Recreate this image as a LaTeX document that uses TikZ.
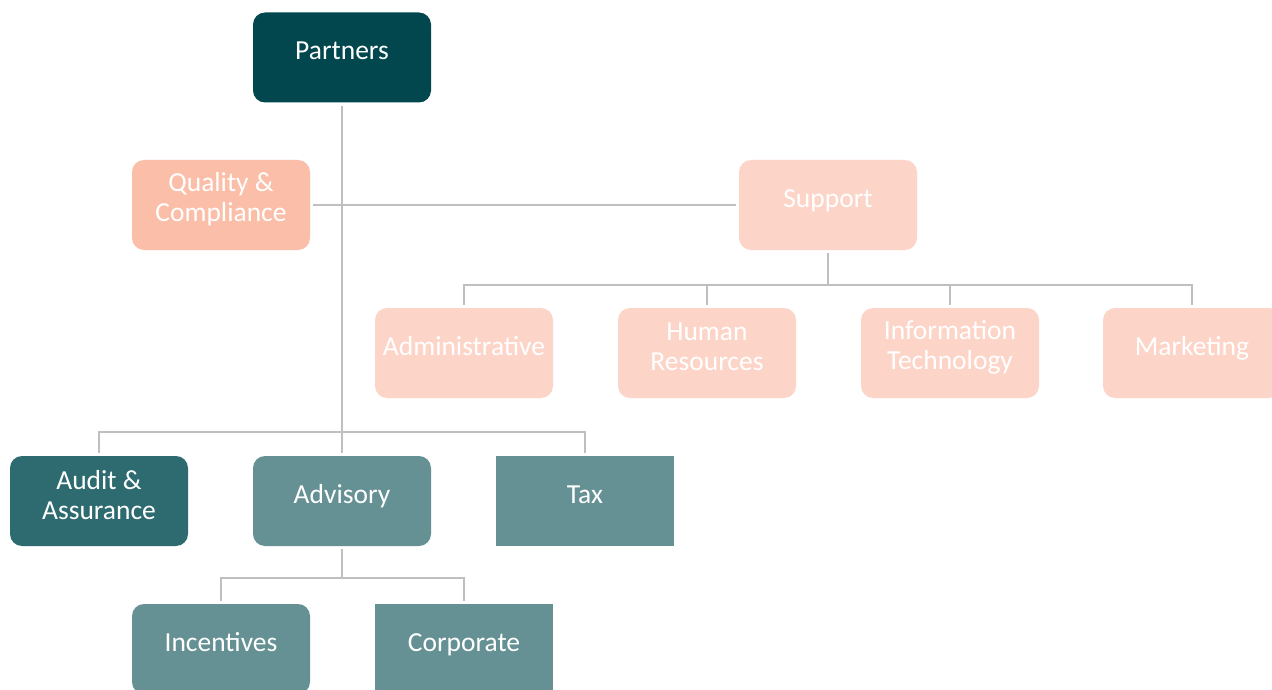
\documentclass[tikz,border=0pt]{standalone}
\usepackage{fontspec}
\setmainfont{Carlito}
\definecolor{cdark}{HTML}{02474E}
\definecolor{caudit}{HTML}{2E6B70}
\definecolor{cmid}{HTML}{669194}
\definecolor{cqual}{HTML}{FBBEA8}
\definecolor{cpeach}{HTML}{FDD5C8}
\definecolor{cline}{HTML}{BFBFBF}
\tikzset{
  orgbox/.style={rectangle, rounded corners=12pt, minimum width=178pt, minimum height=90pt, inner sep=0pt, draw=none},
  sqbox/.style={orgbox, sharp corners},
  lbl/.style={label={[text=white, font=\fontsize{27.5}{30}\selectfont, text height=18pt, text depth=6pt, yshift=3.7pt]center:#1}},
  lbltwo/.style={label={[text=white, align=center, font=\fontsize{27.5}{30}\selectfont, yshift=6pt]center:#1}},
  conn/.style={draw=cline, line width=2.7pt},
}
\begin{document}
\begin{tikzpicture}[x=1pt, y=-1pt]
\useasboundingbox (0,0) rectangle (1272,690);
\fill[white] (0,0) rectangle (1272,690);

\node[orgbox, fill=cdark, lbl={Partners}] (partners) at (342,57.5) {};
\node[orgbox, fill=cqual, lbltwo={Quality \&\\Compliance}] (quality) at (221,205) {};
\node[orgbox, fill=cpeach, lbl={Support}] (support) at (828,205) {};
\node[orgbox, fill=cpeach, lbl={Administrative}] (admin) at (464,353) {};
\node[orgbox, fill=cpeach, lbltwo={Human\\Resources}] (hr) at (707,353) {};
\node[orgbox, fill=cpeach, lbltwo={Information\\Technology}] (it) at (950,353) {};
\node[orgbox, fill=cpeach, lbl={Marketing}] (marketing) at (1192,353) {};
\node[orgbox, fill=caudit, lbltwo={Audit \&\\Assurance}] (audit) at (99,501) {};
\node[orgbox, fill=cmid, lbl={Advisory}] (advisory) at (342,501) {};
\node[sqbox, fill=cmid, lbl={Tax}] (tax) at (585,501) {};
\node[orgbox, fill=cmid, lbl={Incentives}] (incentives) at (221,649) {};
\node[sqbox, fill=cmid, lbl={Corporate}] (corporate) at (464,649) {};

\coordinate (bus1) at (342,432);
\coordinate (bus2) at (828,285);
\coordinate (bus3) at (342,578);

\draw[conn, shorten <=3pt] (partners.south) -- (bus1);
\draw[conn, shorten <=3pt, shorten >=3pt] (quality.east) -- (support.west);
\draw[conn, shorten <=3pt, shorten >=3pt] (audit.north) |- (bus1) -| (tax.north);
\draw[conn, shorten <=3pt] (advisory.north) -- (bus1);

\draw[conn, shorten <=3pt] (support.south) -- (bus2);
\draw[conn, shorten <=3pt, shorten >=3pt] (admin.north) |- (bus2) -| (marketing.north);
\draw[conn, shorten <=3pt] (hr.north) -- (hr.north |- bus2);
\draw[conn, shorten <=3pt] (it.north) -- (it.north |- bus2);

\draw[conn, shorten <=3pt] (advisory.south) -- (bus3);
\draw[conn, shorten <=3pt, shorten >=3pt] (incentives.north) |- (bus3) -| (corporate.north);
\end{tikzpicture}
\end{document}
